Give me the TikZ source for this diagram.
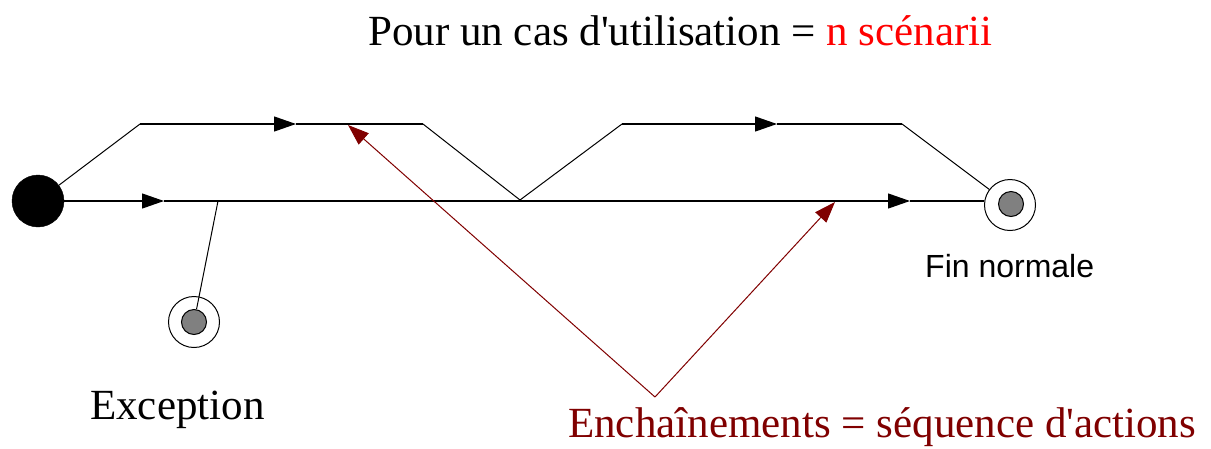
\documentclass[tikz,border=0pt]{standalone}
\usepackage{fontspec}
\setmainfont{Liberation Serif}[Ligatures=TeXOff]
\newfontfamily\arialfont{Liberation Sans}[Ligatures=TeXOff]
\usetikzlibrary{arrows.meta}
\definecolor{darkred}{HTML}{800000}
\definecolor{titlered}{HTML}{FF0000}
\definecolor{endgray}{HTML}{808080}
\begin{document}
\begin{tikzpicture}[x=1pt,y=-1pt,
  flow/.style={line width=1.2pt,black},
  flowarr/.style={flow,-{Triangle[length=22pt,width=15pt]}},
  redarr/.style={line width=1pt,darkred,-{Triangle[length=21pt,width=15pt]}},
  startnode/.style={circle,fill=black,draw=black,minimum size=52pt,inner sep=0pt},
  endouter/.style={circle,draw=black,line width=1pt,fill=white,minimum size=51pt,inner sep=0pt},
  endinner/.style={circle,draw=black,line width=1pt,fill=endgray,minimum size=25pt,inner sep=0pt},
  bigtext/.style={font=\fontsize{43}{49}\selectfont,inner sep=0pt,anchor=base west},
  smalltext/.style={font=\arialfont\fontsize{32}{38}\selectfont,inner sep=0pt,anchor=base west}
]
\useasboundingbox (0,0) rectangle (1211,448);
% nodes
\node[startnode] (start) at (38,201) {};
\node[endouter] (exc) at (194,322) {};
\node[endinner] (exci) at (194,322) {};
\node[endouter] (fin) at (1010,205) {};
\node[endinner] (fini) at (1011,204) {};
% coordinates
\coordinate (ma1) at (164,201);
\coordinate (mb) at (218,201);
\coordinate (ma2) at (910,201);
\coordinate (u1) at (140,124);
\coordinate (ua1) at (296,124);
\coordinate (u2) at (423,124);
\coordinate (x1) at (520,200);
\coordinate (v1) at (622,124);
\coordinate (va1) at (777,124);
\coordinate (v2) at (902,124);
\coordinate (rv) at (655,397);
\coordinate (rt1) at (348,125);
\coordinate (rt2) at (835,202);
% main line
\draw[flowarr] (start) -- (ma1);
\draw[flowarr] (ma1) -- (ma2);
\draw[flow] (ma2) -- (ma2 -| fin.west);
% exception branch
\draw[flow,line width=1pt] (mb) -- (exci);
% upper path 1
\draw[flow,line width=1pt] (start) -- (u1);
\draw[flowarr] (u1) -- (ua1);
\draw[flow] (ua1) -- (u2);
\draw[flow,line width=1pt] (u2) -- (x1);
% upper path 2
\draw[flow,line width=1pt] (x1) -- (v1);
\draw[flowarr] (v1) -- (va1);
\draw[flow] (va1) -- (v2);
\draw[flow,line width=1pt] (v2) -- (fin);
% red arrows
\draw[redarr] (rv) -- (rt1);
\draw[redarr] (rv) -- (rt2);
% texts
\node[bigtext] (title) at (368,45) {Pour un cas d'utilisation = \textcolor{titlered}{n scénarii}};
\node[bigtext] (exctext) at (90,419) {Exception};
\node[bigtext,text=darkred] (enctext) at (568,437) {Enchaînements = séquence d'actions};
\node[smalltext] (fintext) at (925,277) {Fin normale};
\end{tikzpicture}
\end{document}
